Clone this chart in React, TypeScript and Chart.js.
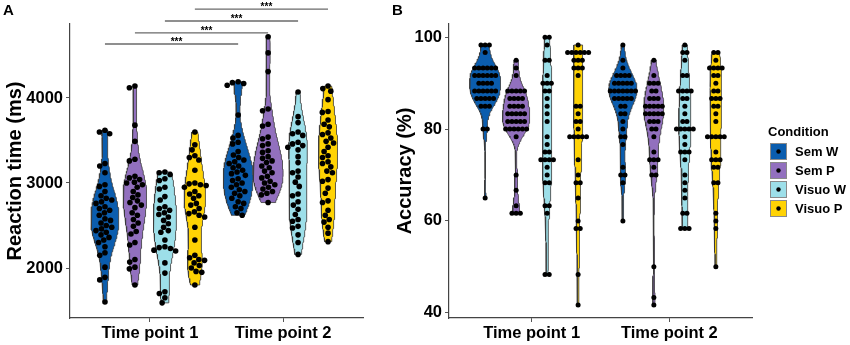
import React, { useEffect, useRef } from "react";
import { Chart, registerables } from "chart.js";

Chart.register(...registerables);

const FONT = '"Liberation Sans", Arial, Helvetica, sans-serif';

const timePoints = ["Time point 1", "Time point 2"];
const conditions = ["Sem W", "Sem P", "Visuo W", "Visuo P"];
const conditionColors = ["#0B5DAE", "#9270BE", "#9DDFE9", "#FFD304"];

// ---- Panel A: reaction time (ms) ----
const rtSemW_T1 = [3620, 3600, 3580, 3230, 3200, 3120, 2980, 2960, 2900, 2850, 2820, 2800, 2780, 2760, 2720, 2700, 2680, 2650, 2620, 2580, 2560, 2530, 2500, 2480, 2460, 2440, 2420, 2390, 2360, 2330, 2300, 2250, 2180, 2150, 2010, 1890, 1860, 1600];
const rtSemP_T1 = [4140, 4120, 3680, 3490, 3280, 3260, 3080, 3060, 3040, 3010, 3000, 2980, 2950, 2900, 2860, 2830, 2790, 2770, 2740, 2710, 2650, 2620, 2570, 2530, 2490, 2430, 2400, 2300, 2270, 2100, 2070, 2010, 1990, 1800];
const rtVisW_T1 = [3130, 3120, 3100, 3050, 3030, 2950, 2930, 2840, 2800, 2720, 2700, 2680, 2650, 2630, 2600, 2560, 2520, 2480, 2440, 2420, 2330, 2250, 2240, 2230, 2210, 2200, 2060, 1940, 1720, 1700, 1650, 1590];
const rtVisP_T1 = [3600, 3450, 3390, 3320, 3300, 3270, 3150, 3000, 2990, 2980, 2970, 2950, 2900, 2870, 2850, 2820, 2760, 2740, 2700, 2660, 2640, 2620, 2600, 2480, 2330, 2150, 2120, 2100, 2090, 2060, 2030, 2000, 1960, 1950, 1800];
const rtSemW_T2 = [4190, 4180, 4170, 4150, 3800, 3560, 3530, 3480, 3460, 3370, 3330, 3300, 3270, 3250, 3230, 3200, 3180, 3150, 3130, 3110, 3090, 3050, 3030, 3000, 2980, 2950, 2920, 2900, 2880, 2850, 2820, 2780, 2760, 2720, 2700, 2650, 2620];
const rtSemP_T2 = [4720, 4530, 4310, 3870, 3850, 3690, 3670, 3540, 3520, 3460, 3440, 3380, 3360, 3310, 3290, 3260, 3240, 3200, 3180, 3140, 3120, 3080, 3060, 3020, 3000, 2980, 2950, 2930, 2900, 2880, 2860, 2770];
const rtVisW_T2 = [4070, 3780, 3710, 3600, 3580, 3560, 3480, 3460, 3440, 3420, 3390, 3310, 3240, 3140, 3120, 3070, 3010, 2960, 2870, 2850, 2780, 2740, 2690, 2630, 2570, 2550, 2490, 2470, 2390, 2300, 2160];
const rtVisP_T2 = [4140, 4110, 4080, 3980, 3840, 3830, 3740, 3690, 3660, 3590, 3570, 3530, 3490, 3470, 3420, 3370, 3320, 3300, 3250, 3230, 3190, 3140, 3120, 3040, 3020, 2940, 2880, 2790, 2770, 2680, 2620, 2570, 2540, 2480, 2410, 2310];
const rtTicks = [2000, 3000, 4000];
const rtRange = [1412, 4870];
const bracketLevels = [4635, 4765, 4905, 5045];
const bracketLabel = "***";

// ---- Panel B: accuracy (%) ----
const accSemW_T1 = [98.33, 98.33, 98.33, 96.67, 93.33, 93.33, 93.33, 93.33, 93.33, 93.33, 91.67, 91.67, 91.67, 91.67, 91.67, 91.67, 90, 90, 90, 90, 88.33, 88.33, 88.33, 88.33, 88.33, 88.33, 86.67, 86.67, 86.67, 86.67, 86.67, 85, 85, 85, 80, 80, 65];
const accSemP_T1 = [95, 93.33, 91.67, 88.33, 88.33, 88.33, 88.33, 88.33, 86.67, 86.67, 86.67, 86.67, 85, 85, 85, 85, 83.33, 83.33, 83.33, 83.33, 83.33, 81.67, 81.67, 81.67, 81.67, 81.67, 80, 80, 80, 80, 80, 80, 78.33, 70, 66.67, 63.33, 61.67, 61.67, 61.67];
const accVisW_T1 = [100, 100, 98.33, 95, 95, 91.67, 90, 90, 90, 88.33, 88.33, 86.67, 85, 83.33, 81.67, 78.33, 76.67, 75, 75, 73.33, 73.33, 73.33, 73.33, 71.67, 70, 68.33, 68.33, 63.33, 63.33, 61.67, 48.33, 48.33];
const accVisP_T1 = [98.33, 96.67, 96.67, 96.67, 96.67, 96.67, 96.67, 95, 95, 95, 93.33, 93.33, 93.33, 91.67, 85, 85, 83.33, 81.67, 81.67, 80, 78.33, 78.33, 78.33, 78.33, 78.33, 73.33, 70, 68.33, 68.33, 65, 60, 58.33, 58.33, 48.33, 41.67];
const accSemW_T2 = [98.33, 95, 93.33, 91.67, 91.67, 91.67, 91.67, 90, 90, 90, 90, 90, 88.33, 88.33, 88.33, 88.33, 88.33, 88.33, 88.33, 86.67, 86.67, 86.67, 86.67, 86.67, 85, 85, 83.33, 83.33, 81.67, 80, 78.33, 78.33, 76.67, 71.67, 70, 70, 68.33, 60];
const accSemP_T2 = [95, 91.67, 90, 90, 90, 88.33, 88.33, 86.67, 86.67, 86.67, 85, 85, 85, 85, 85, 83.33, 83.33, 83.33, 83.33, 83.33, 81.67, 81.67, 81.67, 80, 80, 78.33, 75, 73.33, 73.33, 73.33, 71.67, 70, 70, 50, 43.33, 41.67];
const accVisW_T2 = [98.33, 96.67, 96.67, 95, 91.67, 91.67, 88.33, 88.33, 88.33, 88.33, 86.67, 86.67, 85, 83.33, 81.67, 81.67, 80, 80, 80, 80, 80, 78.33, 76.67, 75, 75, 75, 73.33, 70, 68.33, 66.67, 65, 61.67, 61.67, 58.33, 58.33, 58.33];
const accVisP_T2 = [96.67, 96.67, 95, 93.33, 93.33, 93.33, 93.33, 91.67, 91.67, 90, 88.33, 88.33, 86.67, 86.67, 86.67, 85, 85, 83.33, 81.67, 78.33, 78.33, 78.33, 78.33, 78.33, 75, 73.33, 73.33, 73.33, 71.67, 71.67, 68.33, 68.33, 61.67, 60, 58.33, 50];
const accTicks = [40, 60, 80, 100];
const accRange = [38.85, 102.9];

const rtGroups = [
  [rtSemW_T1, rtSemP_T1, rtVisW_T1, rtVisP_T1],
  [rtSemW_T2, rtSemP_T2, rtVisW_T2, rtVisP_T2],
];
const accGroups = [
  [accSemW_T1, accSemP_T1, accVisW_T1, accVisP_T1],
  [accSemW_T2, accSemP_T2, accVisW_T2, accVisP_T2],
];

const DODGE = 0.225;

function kde(values: number[], n = 120) {
  const s = [...values].sort((a, b) => a - b);
  const N = s.length;
  const mean = s.reduce((a, b) => a + b, 0) / N;
  const sd = Math.sqrt(s.reduce((a, b) => a + (b - mean) ** 2, 0) / (N - 1));
  const q = (p: number) => {
    const h = (N - 1) * p;
    const lo = Math.floor(h);
    const hi = Math.min(lo + 1, N - 1);
    return s[lo] + (h - lo) * (s[hi] - s[lo]);
  };
  const iqr = q(0.75) - q(0.25);
  let lo = Math.min(sd, iqr / 1.34);
  if (!(lo > 0)) lo = sd || 1;
  const bw = 0.9 * lo * Math.pow(N, -0.2);
  const min = s[0];
  const max = s[N - 1];
  const pts: { y: number; d: number }[] = [];
  for (let i = 0; i < n; i++) {
    const y = min + ((max - min) * i) / (n - 1);
    let d = 0;
    for (const v of s) {
      const z = (y - v) / bw;
      d += Math.exp(-0.5 * z * z);
    }
    d /= N * bw * Math.sqrt(2 * Math.PI);
    pts.push({ y, d });
  }
  return pts;
}

function centerOf(t: number, c: number) {
  return t + 1 + (c - 1.5) * DODGE;
}

function buildDatasets(groups: number[][][], dotRadius: number, swarmD: number, swarmMode: string) {
  const dens = groups.map((g) => g.map((vals) => kde(vals)));
  let maxD = 0;
  dens.forEach((g) => g.forEach((pts) => pts.forEach((p) => { if (p.d > maxD) maxD = p.d; })));
  const half = DODGE / 2;
  const datasets: any[] = [];
  groups.forEach((g, t) =>
    g.forEach((vals, c) => {
      const cx = centerOf(t, c);
      const pts = dens[t][c];
      const right = pts.map((p) => ({ x: cx + (p.d / maxD) * half, y: p.y }));
      const left = pts.slice().reverse().map((p) => ({ x: cx - (p.d / maxD) * half, y: p.y }));
      datasets.push({
        type: "line",
        data: [...right, ...left, right[0]],
        backgroundColor: conditionColors[c],
        borderColor: "#3a3a3a",
        borderWidth: 0.8,
        fill: "shape",
        pointRadius: 0,
        tension: 0,
        order: 2,
      });
      datasets.push({
        type: "scatter",
        data: vals.map((v) => ({ x: cx, y: v })),
        pointRadius: dotRadius,
        pointHoverRadius: dotRadius,
        backgroundColor: "#000",
        borderWidth: 0,
        swarm: swarmD,
        swarmMode,
        order: 0,
      });
    })
  );
  return datasets;
}

function beeswarm(ys: number[], d: number) {
  const idx = ys.map((_, i) => i).sort((a, b) => ys[a] - ys[b]);
  const placed: { x: number; y: number }[] = [];
  const out = new Array(ys.length).fill(0);
  for (const i of idx) {
    const y = ys[i];
    const near = placed.filter((p) => Math.abs(p.y - y) < d);
    const cands = [0];
    for (const p of near) {
      const dx = Math.sqrt(Math.max(0, d * d - (p.y - y) ** 2));
      cands.push(p.x + dx, p.x - dx);
    }
    cands.sort((a, b) => Math.abs(a) - Math.abs(b) || a - b);
    for (const c of cands) {
      if (near.every((p) => (p.x - c) ** 2 + (p.y - y) ** 2 >= d * d - 0.01)) {
        out[i] = c;
        placed.push({ x: c, y });
        break;
      }
    }
  }
  return out;
}

// Dot-plot style: identical values are stacked in a centred row.
function centredRows(ys: number[], d: number) {
  const out = new Array(ys.length).fill(0);
  const groups = new Map<number, number[]>();
  ys.forEach((y, i) => {
    const key = Math.round(y * 10);
    if (!groups.has(key)) groups.set(key, []);
    groups.get(key)!.push(i);
  });
  groups.forEach((ids) => {
    ids.forEach((id, k) => { out[id] = (k - (ids.length - 1) / 2) * d; });
  });
  return out;
}

const swarmPlugin = {
  id: "swarmLayout",
  afterDatasetsUpdate(chart: any) {
    chart.data.datasets.forEach((ds: any, i: number) => {
      if (!ds.swarm) return;
      const els = chart.getDatasetMeta(i).data as any[];
      const ys = els.map((e) => e.y);
      const offs = ds.swarmMode === "rows" ? centredRows(ys, ds.swarm) : beeswarm(ys, ds.swarm);
      els.forEach((e, k) => { e.x = e.x + offs[k]; });
    });
  },
};

function panelLetter(letter: string, x: number) {
  return {
    id: "panelLetter" + letter,
    afterDraw(chart: any) {
      const ctx = chart.ctx;
      ctx.save();
      ctx.font = `bold 15px ${FONT}`;
      ctx.fillStyle = "#000";
      ctx.textAlign = "left";
      ctx.textBaseline = "top";
      ctx.fillText(letter, x, 3);
      ctx.restore();
    },
  };
}

const bracketTextPlugin = {
  id: "bracketText",
  afterDatasetsDraw(chart: any) {
    const ctx = chart.ctx;
    const xs = chart.scales.x;
    const ys = chart.scales.y;
    ctx.save();
    ctx.font = `bold 10px ${FONT}`;
    ctx.fillStyle = "#000";
    ctx.textAlign = "center";
    ctx.textBaseline = "bottom";
    bracketLevels.forEach((lvl, c) => {
      const mid = (centerOf(0, c) + centerOf(1, c)) / 2;
      ctx.fillText(bracketLabel, xs.getPixelForValue(mid) + 5, ys.getPixelForValue(lvl) + 3);
    });
    ctx.restore();
  },
};

const legendPlugin = {
  id: "conditionLegend",
  afterDraw(chart: any) {
    const { ctx, chartArea } = chart;
    const x0 = chartArea.right + 18;
    const midY = (chartArea.top + chartArea.bottom) / 2;
    ctx.save();
    ctx.font = `bold 13px ${FONT}`;
    ctx.fillStyle = "#000";
    ctx.textAlign = "left";
    ctx.textBaseline = "middle";
    ctx.fillText("Condition", x0 - 2, midY - 39);
    conditions.forEach((c, j) => {
      const by = midY - 28 + j * 19;
      ctx.fillStyle = conditionColors[j];
      ctx.fillRect(x0, by, 17, 17);
      ctx.strokeStyle = "#8a8a8a";
      ctx.lineWidth = 1;
      ctx.strokeRect(x0 + 0.5, by + 0.5, 16, 16);
      ctx.beginPath();
      ctx.arc(x0 + 8.5, by + 8.5, 2.2, 0, Math.PI * 2);
      ctx.fillStyle = "#000";
      ctx.fill();
      ctx.fillText(c, x0 + 25, by + 9);
    });
    ctx.restore();
  },
};

function makeOptions(opts: {
  yTitle: string;
  yRange: number[];
  yTicks: number[];
  yWidth: number;
  padRight: number;
}) {
  return {
    responsive: false,
    animation: false,
    devicePixelRatio: 1,
    layout: { padding: { top: 24, right: opts.padRight, bottom: 0, left: 0 } },
    plugins: { legend: { display: false }, tooltip: { enabled: false } },
    events: [],
    scales: {
      x: {
        type: "linear",
        min: 0.4,
        max: 2.6,
        afterBuildTicks: (s: any) => { s.ticks = timePoints.map((_, i) => ({ value: i + 1 })); },
        afterFit: (s: any) => { s.height = 27; },
        ticks: {
          callback: (v: any) => timePoints[Math.round(Number(v)) - 1] ?? "",
          color: "#000",
          font: { family: FONT, size: 16.5, weight: "bold" },
          padding: 2,
          autoSkip: false,
          maxRotation: 0,
        },
        grid: { drawOnChartArea: false, drawTicks: true, tickLength: 4, tickColor: "#555", tickWidth: 1 },
        border: { display: true, color: "#444", width: 1.2 },
      },
      y: {
        type: "linear",
        min: opts.yRange[0],
        max: opts.yRange[1],
        afterBuildTicks: (s: any) => { s.ticks = opts.yTicks.map((v) => ({ value: v })); },
        afterFit: (s: any) => { s.width = opts.yWidth; },
        ticks: {
          color: "#000",
          font: { family: FONT, size: 16.5, weight: "bold" },
          padding: 3,
          callback: (v: any) => String(v),
        },
        title: {
          display: true,
          text: opts.yTitle,
          color: "#000",
          font: { family: FONT, size: 20, weight: "bold" },
          padding: { top: 3, bottom: 0 },
        },
        grid: { drawOnChartArea: false, drawTicks: true, tickLength: 4, tickColor: "#555", tickWidth: 1 },
        border: { display: true, color: "#444", width: 1.2 },
      },
    },
  } as any;
}

export default function App() {
  const refA = useRef<HTMLCanvasElement>(null);
  const refB = useRef<HTMLCanvasElement>(null);

  useEffect(() => {
    document.body.style.margin = "0";
    Chart.defaults.font.family = FONT;

    const dsA = buildDatasets(rtGroups, 2.8, 5.8, "swarm");
    rtGroups[0].forEach((_, c) => {
      dsA.push({
        type: "line",
        data: [
          { x: centerOf(0, c), y: bracketLevels[c] },
          { x: centerOf(1, c), y: bracketLevels[c] },
        ],
        borderColor: "#6a6a6a",
        borderWidth: 1.3,
        pointRadius: 0,
        fill: false,
        clip: false,
        order: 3,
      });
    });

    const chartA = new Chart(refA.current!, {
      type: "scatter",
      data: { datasets: dsA },
      options: makeOptions({ yTitle: "Reaction time (ms)", yRange: rtRange, yTicks: rtTicks, yWidth: 70, padRight: 27 }),
      plugins: [swarmPlugin, bracketTextPlugin, panelLetter("A", 3)],
    } as any);

    const chartB = new Chart(refB.current!, {
      type: "scatter",
      data: { datasets: buildDatasets(accGroups, 2.5, 4.2, "rows") },
      options: makeOptions({ yTitle: "Accuracy (%)", yRange: accRange, yTicks: accTicks, yWidth: 59, padRight: 98 }),
      plugins: [swarmPlugin, legendPlugin, panelLetter("B", 2)],
    } as any);

    return () => {
      chartA.destroy();
      chartB.destroy();
    };
  }, []);

  return (
    <div style={{ display: "flex", width: 850, height: 345, background: "#fff" }}>
      <canvas ref={refA} width={390} height={345} style={{ display: "block" }} />
      <canvas ref={refB} width={460} height={345} style={{ display: "block" }} />
    </div>
  );
}
